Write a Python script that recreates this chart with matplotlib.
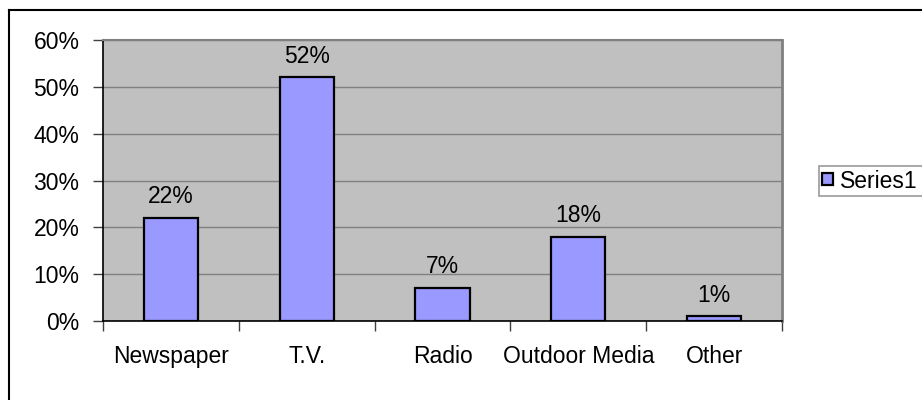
import matplotlib.pyplot as plt
from matplotlib.lines import Line2D
from matplotlib.ticker import PercentFormatter
import numpy as np

plt.rcParams['font.family'] = ['Liberation Sans', 'DejaVu Sans']

# chart data
categories = ['Newspaper', 'T.V.', 'Radio', 'Outdoor Media', 'Other']
values = [0.22, 0.52, 0.07, 0.18, 0.01]
series_name = 'Series1'
yticks = [0, 0.1, 0.2, 0.3, 0.4, 0.5, 0.6]

fs = 16.5
fig = plt.figure(figsize=(9.22, 4), dpi=100)
ax = fig.add_axes([103/922, 79/400, 679/922, 281/400])
ax.set_facecolor('#C0C0C0')

x = np.arange(len(categories))
bars = ax.bar(x, values, width=0.4, color='#9999FF', edgecolor='black',
              linewidth=1.6, label=series_name, zorder=3)

for xi, v in zip(x, values):
    ax.annotate('%d%%' % round(v * 100), (xi, v), xytext=(0, 7),
                textcoords='offset points', ha='center', va='bottom', fontsize=fs)

ax.set_xlim(-0.5, len(categories) - 0.5)
ax.set_ylim(0, 0.6)
ax.set_yticks(yticks)
ax.yaxis.set_major_formatter(PercentFormatter(1.0, decimals=0))
ax.yaxis.grid(True, color='#808080', linewidth=1.0, zorder=1)
ax.set_axisbelow(True)

ax.set_xticks(x)
ax.set_xticklabels(categories)
ax.set_xticks(np.arange(-0.5, len(categories)), minor=True)
ax.tick_params(axis='x', which='major', length=0, pad=17, labelsize=fs)
ax.tick_params(axis='x', which='minor', length=7, width=1, color='#404040', direction='out')
ax.tick_params(axis='y', length=7, width=1, color='#404040', pad=10, labelsize=fs)

for side in ['left', 'bottom']:
    ax.spines[side].set_color('black')
    ax.spines[side].set_linewidth(1.2)
ax.spines['top'].set_color('#808080')
ax.spines['top'].set_linewidth(1.5)
ax.spines['right'].set_color('#808080')
ax.spines['right'].set_linewidth(2)

# legend box runs off the right edge like in the reference
leg = ax.legend(handles=[bars], loc='center left', mode='expand',
                bbox_to_anchor=(819/922, 0.5475 - 0.04, 0.12, 0.08),
                bbox_transform=fig.transFigure, fontsize=fs, frameon=True,
                fancybox=False, shadow=False, borderpad=0.15, borderaxespad=0,
                handlelength=0.45, handleheight=0.45, handletextpad=0.3)
leg.get_frame().set_edgecolor('#808080')
leg.get_frame().set_linewidth(1.2)

# outer chart border (cut off at right and bottom)
fig.add_artist(Line2D([9/922, 1.0], [390/400, 390/400], color='black', linewidth=1.5,
                      transform=fig.transFigure))
fig.add_artist(Line2D([9/922, 9/922], [0.0, 390/400], color='black', linewidth=1.5,
                      transform=fig.transFigure))

plt.savefig('out.png', dpi=100)
